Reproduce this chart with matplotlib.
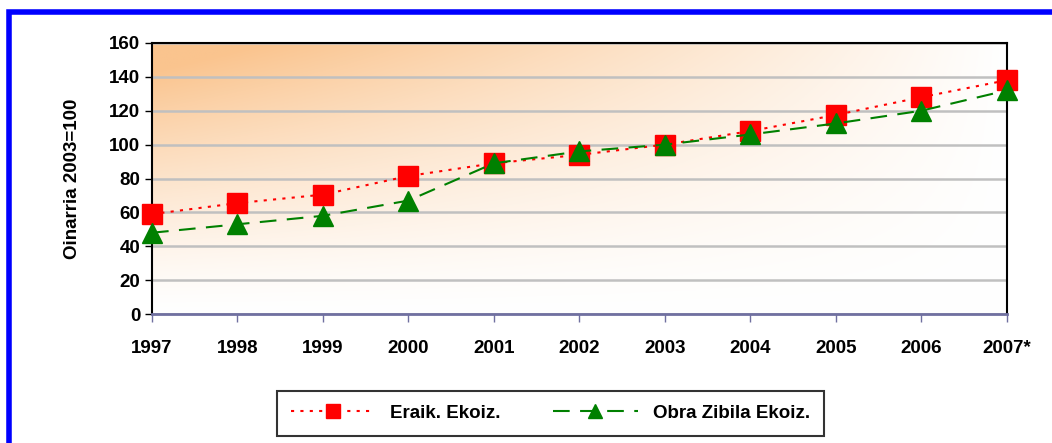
import numpy as np
import matplotlib.pyplot as plt
from matplotlib.patches import Rectangle

plt.rcParams['font.family'] = ['Liberation Sans', 'DejaVu Sans']
plt.rcParams['font.weight'] = 'bold'

years = ['1997', '1998', '1999', '2000', '2001', '2002', '2003', '2004', '2005', '2006', '2007*']
eraik = [59, 65.5, 70.5, 81.5, 89, 94, 100, 108, 117.5, 128, 138]
obra = [48, 53, 58, 67, 89, 96, 100, 106, 112.5, 120, 132]

fig = plt.figure(figsize=(10.52, 4.43), dpi=100)
ax = fig.add_axes([0.1445, 0.291, 0.8125, 0.612])

# gradient background: orange top-left fading to white
nx, ny = 300, 200
gx = np.linspace(0, 1, nx)[None, :]
gy = np.linspace(0, 1, ny)[:, None]
a = np.clip(1 - gx / 1.0, 0, 1) ** 1.0 * gy ** 1.3
a = np.clip(a * 1.15, 0, 1)
top = np.array([250, 196, 142]) / 255.0
img = np.ones((ny, nx, 3)) * (1 - a[..., None]) + top * a[..., None]
ax.imshow(img, extent=[0, 1, 0, 1], transform=ax.transAxes, origin='lower',
          aspect='auto', zorder=0)

x = np.arange(len(years))
ax.plot(x, eraik, color='red', linestyle=(0, (1.5, 3)), linewidth=1.5,
        marker='s', markersize=14, markerfacecolor='red', markeredgecolor='red',
        label='Eraik. Ekoiz.', zorder=3, clip_on=False)
ax.plot(x, obra, color='green', linestyle=(0, (8, 5)), linewidth=1.5,
        marker='^', markersize=14, markerfacecolor='green', markeredgecolor='green',
        label='Obra Zibila Ekoiz.', zorder=4, clip_on=False)

ax.set_xlim(0, len(years) - 1)
ax.set_ylim(0, 160)
ax.set_yticks(range(0, 161, 20))
ax.set_xticks(x)
ax.set_xticklabels(years, fontsize=13.5, fontweight='bold')
ax.tick_params(axis='y', labelsize=13.5, length=5, width=1, direction='out')
ax.tick_params(axis='x', length=6, width=1, color='#7070A0', pad=13)
ax.yaxis.grid(True, color='#C0C0C0', linewidth=1.8, zorder=1)
ax.set_axisbelow(True)
for s in ['left', 'top', 'right']:
    ax.spines[s].set_color('black')
    ax.spines[s].set_linewidth(1.5)
ax.spines['bottom'].set_color('#7070A0')
ax.spines['bottom'].set_linewidth(2)
ax.set_ylabel('Oinarria 2003=100', fontsize=13.5, fontweight='bold', labelpad=20)

leg = fig.legend(loc='center', bbox_to_anchor=(0.523, 0.067), ncol=2,
                 fontsize=13.5, frameon=True, fancybox=False, edgecolor='black',
                 handlelength=4.5, columnspacing=2.8, borderpad=0.75, markerscale=0.75)
leg.get_frame().set_linewidth(1.5)

fig.patches.append(Rectangle((9 / 1052, -0.1), 1.1, 1 - 12 / 443 + 0.1,
                             transform=fig.transFigure, fill=False,
                             edgecolor='#0000FF', linewidth=4))

fig.savefig('out.png', dpi=100)
